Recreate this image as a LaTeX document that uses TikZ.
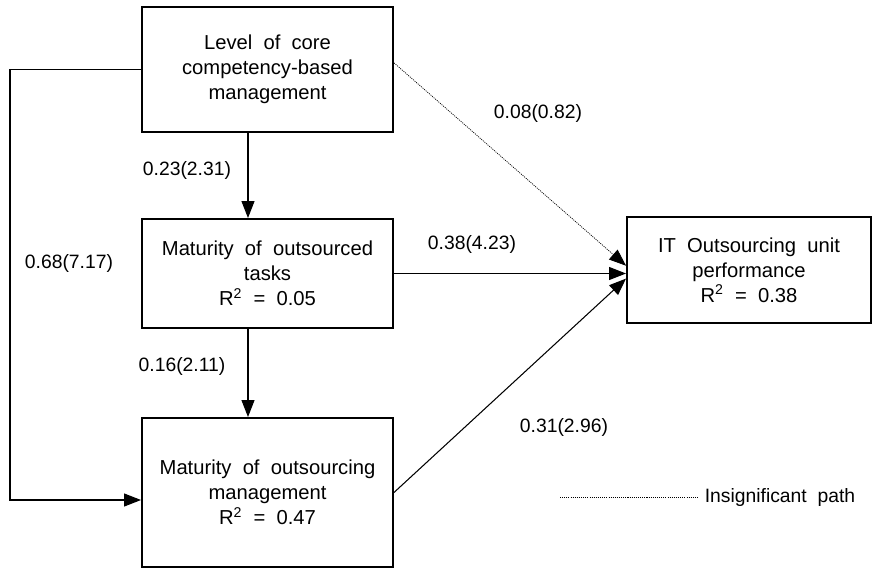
\documentclass[tikz,border=0pt]{standalone}
\usepackage{fontspec}
\setmainfont{Liberation Sans}[WordSpace=2]
\usetikzlibrary{arrows.meta}

\tikzset{
  varbox/.style={draw, line width=1.1pt, align=center, inner sep=0pt,
    font=\fontsize{11.5}{14.2}\selectfont},
  effect/.style={line width=0.6pt, -{Triangle[length=0.34cm, width=0.26cm]}},
  insig/.style={line width=0.4pt, dash pattern=on 0.6pt off 0.6pt},
  coef/.style={font=\fontsize{11}{13}\selectfont}
}

\begin{document}
\begin{tikzpicture}
  \useasboundingbox (0cm,0cm) rectangle (17.48cm,-11.4cm);
  \node[varbox, minimum width=5.02cm, minimum height=2.5cm] (lvl) at (5.35cm,-1.39cm) {Level of core\\competency-based\\management};
  \node[varbox, minimum width=5.02cm, minimum height=2.18cm] (mot) at (5.35cm,-5.47cm) {Maturity of outsourced\\tasks\\R\textsuperscript{2} = 0.05};
  \node[varbox, minimum width=5.02cm, minimum height=2.98cm] (mom) at (5.35cm,-9.85cm) {Maturity of outsourcing\\management\\R\textsuperscript{2} = 0.47};
  \node[varbox, minimum width=4.88cm, minimum height=2.12cm] (perf) at (14.98cm,-5.4cm) {IT Outsourcing unit\\performance\\R\textsuperscript{2} = 0.38};
  \coordinate (down) at (4.96cm,0cm);
  \coordinate (loop) at (0.2cm,-10cm);
  \draw[effect] (lvl.south -| down) -- (mot.north -| down);
  \draw[effect] (mot.south -| down) -- (mom.north -| down);
  \draw[effect] (lvl.west) -| (loop) -- (loop -| mom.west);
  \draw[insig, -{Triangle[length=0.34cm, width=0.26cm]}] (lvl.3) -- (perf.178);
  \draw[effect] (mot.east) -- (mot.east -| perf.west);
  \draw[effect] (mom.east) -- (perf.184);
  \node[coef] (c1) at (3.74cm,-3.4cm) {0.23(2.31)};
  \node[coef] (c2) at (3.64cm,-7.32cm) {0.16(2.11)};
  \node[coef] (c3) at (1.38cm,-5.26cm) {0.68(7.17)};
  \node[coef] (c4) at (10.76cm,-2.26cm) {0.08(0.82)};
  \node[coef] (c5) at (9.44cm,-4.88cm) {0.38(4.23)};
  \node[coef] (c6) at (11.28cm,-8.54cm) {0.31(2.96)};
  \node[coef] (leg) at (15.6cm,-9.94cm) {Insignificant path};
  \coordinate (legstart) at (11.2cm,-9.94cm);
  \draw[insig] (legstart) -- (leg.west);
\end{tikzpicture}
\end{document}
